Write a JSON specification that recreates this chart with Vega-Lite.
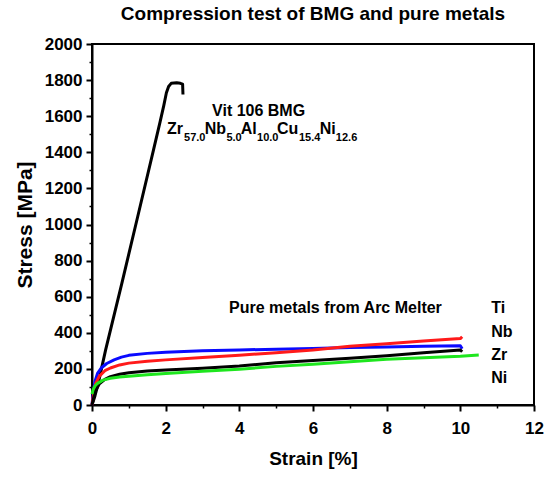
{
  "$schema": "https://vega.github.io/schema/vega-lite/v6.json",
  "width": 442,
  "height": 361,
  "autosize": {"type": "none"},
  "padding": {"left": 92, "top": 44, "right": 12, "bottom": 72},
  "background": "white",
  "title": {"text": "Compression test of BMG and pure metals", "fontSize": 19, "fontWeight": "bold", "font": "Liberation Sans", "anchor": "middle", "frame": "group", "offset": 11, "color": "black"},
  "config": {
    "view": {"stroke": "black", "strokeWidth": 2},
    "font": "Liberation Sans",
    "axis": {"grid": false, "domainColor": "black", "domainWidth": 2, "tickColor": "black", "labelColor": "black", "titleColor": "black", "labelFont": "Liberation Sans", "titleFont": "Liberation Sans", "labelFontWeight": "bold", "titleFontWeight": "bold", "labelFontSize": 17, "labelFlush": false, "labelOverlap": false, "labelBound": false, "format": "d"}
  },
  "datasets": {
    "curves": [
      {"series": "BMG", "strain": 0, "stress": 0},
      {"series": "BMG", "strain": 0.08, "stress": 50},
      {"series": "BMG", "strain": 0.17, "stress": 120},
      {"series": "BMG", "strain": 0.37, "stress": 305},
      {"series": "BMG", "strain": 0.81, "stress": 674},
      {"series": "BMG", "strain": 1.24, "stress": 1043},
      {"series": "BMG", "strain": 1.67, "stress": 1413},
      {"series": "BMG", "strain": 1.85, "stress": 1570},
      {"series": "BMG", "strain": 1.95, "stress": 1660},
      {"series": "BMG", "strain": 2.02, "stress": 1730},
      {"series": "BMG", "strain": 2.08, "stress": 1765},
      {"series": "BMG", "strain": 2.15, "stress": 1782},
      {"series": "BMG", "strain": 2.3, "stress": 1785},
      {"series": "BMG", "strain": 2.4, "stress": 1782},
      {"series": "BMG", "strain": 2.46, "stress": 1778},
      {"series": "BMG", "strain": 2.47, "stress": 1720},
      {"series": "Ti", "strain": 0, "stress": 0},
      {"series": "Ti", "strain": 0.03, "stress": 60},
      {"series": "Ti", "strain": 0.08, "stress": 130},
      {"series": "Ti", "strain": 0.15, "stress": 175},
      {"series": "Ti", "strain": 0.25, "stress": 205},
      {"series": "Ti", "strain": 0.4, "stress": 230},
      {"series": "Ti", "strain": 0.6, "stress": 250},
      {"series": "Ti", "strain": 0.8, "stress": 265},
      {"series": "Ti", "strain": 1.0, "stress": 275},
      {"series": "Ti", "strain": 1.5, "stress": 286},
      {"series": "Ti", "strain": 2, "stress": 292},
      {"series": "Ti", "strain": 3, "stress": 300},
      {"series": "Ti", "strain": 4, "stress": 305},
      {"series": "Ti", "strain": 5, "stress": 309},
      {"series": "Ti", "strain": 6, "stress": 313},
      {"series": "Ti", "strain": 7, "stress": 318},
      {"series": "Ti", "strain": 8, "stress": 322},
      {"series": "Ti", "strain": 9, "stress": 325},
      {"series": "Ti", "strain": 10, "stress": 328},
      {"series": "Ti", "strain": 10.05, "stress": 312},
      {"series": "Nb", "strain": 0, "stress": 0},
      {"series": "Nb", "strain": 0.05, "stress": 70},
      {"series": "Nb", "strain": 0.1, "stress": 120},
      {"series": "Nb", "strain": 0.2, "stress": 160},
      {"series": "Nb", "strain": 0.35, "stress": 190},
      {"series": "Nb", "strain": 0.5, "stress": 205},
      {"series": "Nb", "strain": 0.75, "stress": 222},
      {"series": "Nb", "strain": 1, "stress": 232},
      {"series": "Nb", "strain": 1.5, "stress": 242},
      {"series": "Nb", "strain": 2, "stress": 250},
      {"series": "Nb", "strain": 3, "stress": 263},
      {"series": "Nb", "strain": 4, "stress": 276},
      {"series": "Nb", "strain": 5, "stress": 290},
      {"series": "Nb", "strain": 6, "stress": 305},
      {"series": "Nb", "strain": 7, "stress": 325},
      {"series": "Nb", "strain": 8, "stress": 340},
      {"series": "Nb", "strain": 9, "stress": 355},
      {"series": "Nb", "strain": 10, "stress": 368},
      {"series": "Nb", "strain": 10.05, "stress": 378},
      {"series": "Zr", "strain": 0, "stress": 0},
      {"series": "Zr", "strain": 0.05, "stress": 45},
      {"series": "Zr", "strain": 0.1, "stress": 80},
      {"series": "Zr", "strain": 0.2, "stress": 118},
      {"series": "Zr", "strain": 0.35, "stress": 142},
      {"series": "Zr", "strain": 0.5, "stress": 157},
      {"series": "Zr", "strain": 0.75, "stress": 170},
      {"series": "Zr", "strain": 1, "stress": 179},
      {"series": "Zr", "strain": 1.5, "stress": 188},
      {"series": "Zr", "strain": 2, "stress": 194},
      {"series": "Zr", "strain": 3, "stress": 203},
      {"series": "Zr", "strain": 4, "stress": 216},
      {"series": "Zr", "strain": 5, "stress": 234},
      {"series": "Zr", "strain": 6, "stress": 247},
      {"series": "Zr", "strain": 7, "stress": 259},
      {"series": "Zr", "strain": 8, "stress": 273},
      {"series": "Zr", "strain": 9, "stress": 290},
      {"series": "Zr", "strain": 10, "stress": 305},
      {"series": "Zr", "strain": 10.05, "stress": 295},
      {"series": "Ni", "strain": 0, "stress": 60},
      {"series": "Ni", "strain": 0.03, "stress": 85},
      {"series": "Ni", "strain": 0.08, "stress": 105},
      {"series": "Ni", "strain": 0.15, "stress": 120},
      {"series": "Ni", "strain": 0.3, "stress": 138},
      {"series": "Ni", "strain": 0.5, "stress": 148},
      {"series": "Ni", "strain": 0.75, "stress": 155},
      {"series": "Ni", "strain": 1, "stress": 159},
      {"series": "Ni", "strain": 1.5, "stress": 168},
      {"series": "Ni", "strain": 2, "stress": 175},
      {"series": "Ni", "strain": 3, "stress": 187},
      {"series": "Ni", "strain": 4, "stress": 198},
      {"series": "Ni", "strain": 5, "stress": 214},
      {"series": "Ni", "strain": 6, "stress": 226},
      {"series": "Ni", "strain": 7, "stress": 240},
      {"series": "Ni", "strain": 8, "stress": 254},
      {"series": "Ni", "strain": 9, "stress": 262},
      {"series": "Ni", "strain": 10, "stress": 270},
      {"series": "Ni", "strain": 10.5, "stress": 277}
    ],
    "labels": [
      {"strain": 3.26, "stress": 1601, "text": "Vit 106 BMG"},
      {"strain": 3.72, "stress": 510, "text": "Pure metals from Arc Melter"},
      {"strain": 10.84, "stress": 508, "text": "Ti"},
      {"strain": 10.84, "stress": 378, "text": "Nb"},
      {"strain": 10.84, "stress": 249, "text": "Zr"},
      {"strain": 10.84, "stress": 120, "text": "Ni"}
    ],
    "formula": [
      {"strain": 2.038, "stress": 1500, "text": "Zr"},
      {"strain": 3.06, "stress": 1500, "text": "Nb"},
      {"strain": 4.04, "stress": 1500, "text": "Al"},
      {"strain": 5.02, "stress": 1500, "text": "Cu"},
      {"strain": 6.18, "stress": 1500, "text": "Ni"}
    ],
    "subscripts": [
      {"strain": 2.5, "stress": 1462, "text": "57.0"},
      {"strain": 3.65, "stress": 1462, "text": "5.0"},
      {"strain": 4.48, "stress": 1462, "text": "10.0"},
      {"strain": 5.62, "stress": 1462, "text": "15.4"},
      {"strain": 6.62, "stress": 1462, "text": "12.6"}
    ]
  },
  "layer": [
    {
      "data": {"name": "curves"},
      "mark": {"type": "line", "strokeWidth": 3, "strokeJoin": "round"},
      "encoding": {
        "x": {"field": "strain", "type": "quantitative", "scale": {"domain": [0, 12], "nice": false},
              "axis": {"orient": "bottom", "values": [0, 2, 4, 6, 8, 10, 12], "tickSize": 6, "tickWidth": 2, "labelPadding": 9, "title": "Strain [%]", "titleFontSize": 19, "titlePadding": 13}},
        "y": {"field": "stress", "type": "quantitative", "scale": {"domain": [0, 2000], "nice": false},
              "axis": {"orient": "left", "values": [0, 200, 400, 600, 800, 1000, 1200, 1400, 1600, 1800, 2000], "tickSize": 6, "tickWidth": 2, "labelPadding": 4, "title": "Stress [MPa]", "titleFontSize": 21, "titlePadding": 9}},
        "color": {"field": "series", "type": "nominal", "scale": {"domain": ["BMG", "Ti", "Nb", "Zr", "Ni"], "range": ["#000000", "#0a0aff", "#ff1a1a", "#000000", "#1ee61e"]}, "legend": null}
      }
    },
    {
      "data": {"name": "labels"},
      "mark": {"type": "text", "align": "left", "baseline": "alphabetic", "fontSize": 16, "fontWeight": "bold", "font": "Liberation Sans", "color": "black"},
      "encoding": {
        "x": {"field": "strain", "type": "quantitative", "axis": {"orient": "bottom", "values": [1, 3, 5, 7, 9, 11], "labels": false, "domain": false, "tickSize": 3, "tickWidth": 1.5, "title": null}},
        "y": {"field": "stress", "type": "quantitative", "axis": {"orient": "left", "values": [100, 300, 500, 700, 900, 1100, 1300, 1500, 1700, 1900], "labels": false, "domain": false, "tickSize": 3, "tickWidth": 1.5, "title": null}},
        "text": {"field": "text"}
      }
    },
    {
      "data": {"name": "formula"},
      "mark": {"type": "text", "align": "left", "baseline": "alphabetic", "fontSize": 16, "fontWeight": "bold", "font": "Liberation Sans", "color": "black"},
      "encoding": {
        "x": {"field": "strain", "type": "quantitative", "axis": null},
        "y": {"field": "stress", "type": "quantitative", "axis": null},
        "text": {"field": "text"}
      }
    },
    {
      "data": {"name": "subscripts"},
      "mark": {"type": "text", "align": "left", "baseline": "alphabetic", "fontSize": 11, "fontWeight": "bold", "font": "Liberation Sans", "color": "black"},
      "encoding": {
        "x": {"field": "strain", "type": "quantitative", "axis": null},
        "y": {"field": "stress", "type": "quantitative", "axis": null},
        "text": {"field": "text"}
      }
    }
  ],
  "resolve": {"axis": {"x": "independent", "y": "independent"}}
}
